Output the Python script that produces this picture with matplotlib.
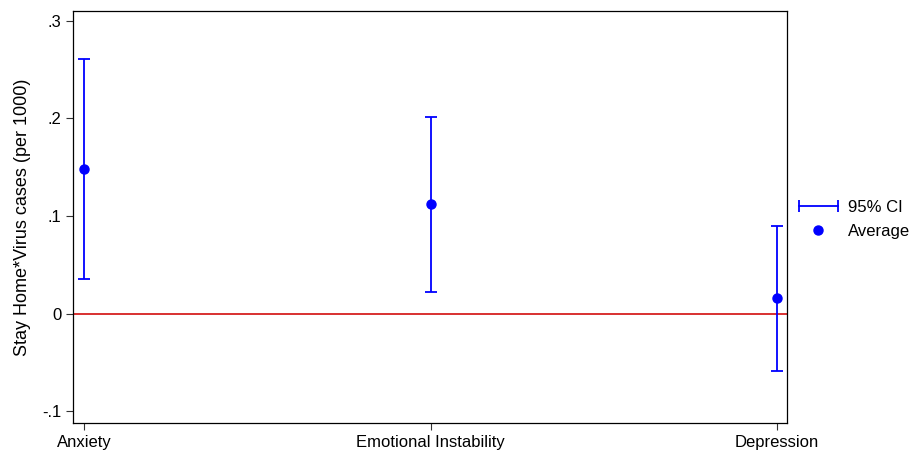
import matplotlib
matplotlib.use("Agg")
import matplotlib.pyplot as plt
from matplotlib.lines import Line2D
from matplotlib.legend_handler import HandlerLine2D

plt.rcParams['font.family'] = ['Liberation Sans', 'DejaVu Sans']

# data
categories = ["Anxiety", "Emotional Instability", "Depression"]
average = [0.148, 0.112, 0.016]
ci_low = [0.036, 0.022, -0.059]
ci_high = [0.261, 0.201, 0.090]
yticks = [-0.1, 0, 0.1, 0.2, 0.3]
ytick_labels = ["-.1", "0", ".1", ".2", ".3"]

blue = "#0000ff"

fig = plt.figure(figsize=(9.10, 4.51), dpi=100)
ax = fig.add_axes([73 / 910, 1 - 423 / 451, (787 - 73) / 910, (423 - 11) / 451])

xpos = list(range(1, len(categories) + 1))
err = [[a - l for a, l in zip(average, ci_low)], [h - a for a, h in zip(average, ci_high)]]

ax.axhline(0, color="#d62020", lw=1.3, zorder=1)
ax.errorbar(xpos, average, yerr=err, fmt="none", ecolor=blue, elinewidth=1.3,
            capsize=4, capthick=1.3, zorder=2)
pts, = ax.plot(xpos, average, "o", color=blue, ms=6.5, zorder=3, label="Average")

ax.set_xlim(0.968, 3.029)
ax.set_ylim(-0.112, 0.310)
ax.set_xticks(xpos)
ax.set_xticklabels(categories, fontsize=12)
ax.set_yticks(yticks)
ax.set_yticklabels(ytick_labels, fontsize=12)
ax.tick_params(direction="out", length=5, width=0.8, color="#333333")
ax.set_ylabel("Stay Home*Virus cases (per 1000)", fontsize=13, labelpad=8)
for s in ax.spines.values():
    s.set_linewidth(0.9)

# horizontal CI handle with caps on both ends
ci_handle = Line2D([], [], color=blue, lw=1.3, marker="|", ms=8, mew=1.3, label="95% CI")

leg = ax.legend(handles=[ci_handle, pts], loc="upper left", bbox_to_anchor=(1.0008, 0.557),
                frameon=False, fontsize=12, handlelength=2.9, handletextpad=0.3,
                borderaxespad=0, labelspacing=0.5,
                handler_map={ci_handle: HandlerLine2D(numpoints=2)})

fig.savefig("out.png", dpi=100, facecolor="white")
